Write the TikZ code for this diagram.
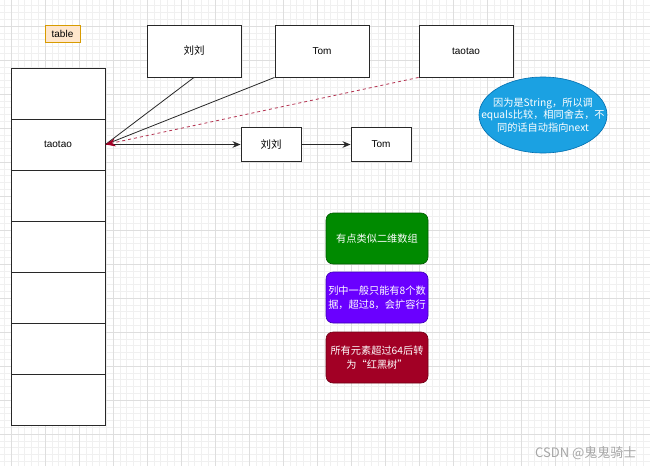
\documentclass[tikz,border=0pt]{standalone}
\usepackage{fontspec}
\setmainfont{Liberation Sans}
\newfontfamily\cjk{Noto Sans CJK SC}
\usetikzlibrary{arrows.meta,shapes.geometric}
\definecolor{gridminor}{RGB}{240,240,240}
\definecolor{gridmajor}{RGB}{222,222,222}
\definecolor{tblfill}{RGB}{255,230,204}
\definecolor{tbldraw}{RGB}{215,155,0}
\definecolor{ellfill}{RGB}{27,161,226}
\definecolor{elldraw}{RGB}{0,110,175}
\definecolor{greenfill}{RGB}{0,138,0}
\definecolor{greendraw}{RGB}{0,90,0}
\definecolor{purplefill}{RGB}{106,0,255}
\definecolor{purpledraw}{RGB}{60,0,180}
\definecolor{redfill}{RGB}{162,0,37}
\definecolor{reddraw}{RGB}{110,0,20}
\definecolor{dashred}{RGB}{180,50,80}
\definecolor{linegray}{RGB}{40,40,40}
\tikzset{
  box/.style={draw=linegray, line width=0.9pt, fill=white, rectangle, inner sep=0pt, font=\fontsize{10}{12}\selectfont},
  rowbox/.style={box, minimum width=94pt, minimum height=51pt},
  bigbox/.style={box, minimum width=94pt, minimum height=52pt},
  smallbox/.style={box, minimum width=60pt, minimum height=34pt},
  note/.style={rectangle, rounded corners=7pt, minimum width=102pt, minimum height=51pt, align=center, text=white, inner sep=0pt, line width=0.6pt, font=\cjk\fontsize{10.2}{13.5}\selectfont},
  link/.style={draw=linegray, line width=0.8pt},
  arr/.style={link, -{Stealth[length=8pt,width=6.5pt]}}
}
\begin{document}
\begin{tikzpicture}[x=1pt,y=-1pt]
\useasboundingbox (0,0) rectangle (650,466);
\fill[white] (0,0) rectangle (650,466);
% grid
\foreach \i in {0,...,95} {
  \draw[gridminor, line width=0.5pt] ({4.2+\i*6.8},0) -- ({4.2+\i*6.8},466);
}
\foreach \i in {0,...,69} {
  \draw[gridminor, line width=0.5pt] (0,{5.6+\i*6.8}) -- (650,{5.6+\i*6.8});
}
\foreach \i in {0,...,18} {
  \draw[gridmajor, line width=0.7pt] ({11+\i*34},0) -- ({11+\i*34},466);
}
\foreach \i in {0,...,13} {
  \draw[gridmajor, line width=0.7pt] (0,{26+\i*34}) -- (650,{26+\i*34});
}
% table label
\node[draw=tbldraw, fill=tblfill, minimum width=35pt, minimum height=17pt, inner sep=0pt, font=\fontsize{10}{11}\selectfont] (tlabel) at (62.5,34) {table};
% table rows
\node[rowbox] (r1) at (58,93.5) {};
\node[rowbox] (r2) at (58,144.5) {taotao};
\node[rowbox] (r3) at (58,195.5) {};
\node[rowbox] (r4) at (58,246.5) {};
\node[rowbox] (r5) at (58,297.5) {};
\node[rowbox] (r6) at (58,348.5) {};
\node[rowbox] (r7) at (58,399.5) {};
% top boxes
\node[bigbox, font=\cjk\fontsize{10.5}{12}\selectfont] (liu1) at (194,51) {刘刘};
\node[bigbox] (tom1) at (322,51) {Tom};
\node[bigbox] (tao1) at (466,51) {taotao};
% chain boxes
\node[smallbox, font=\cjk\fontsize{10.5}{12}\selectfont] (liu2) at (271,144.5) {刘刘};
\node[smallbox] (tom2) at (381,144.5) {Tom};
% ellipse
\node[ellipse, draw=elldraw, fill=ellfill, line width=0.6pt, minimum width=128pt, minimum height=76pt, inner sep=0pt] (ell) at (543,115) {};
\node[text=white, align=center, inner sep=0pt, font=\cjk\fontsize{10.2}{12.5}\selectfont] (elltext) at (ell.center) {因为是String，所以调\\equals比较，相同舍去，不\\同的话自动指向next};
% notes
\node[note, draw=greendraw, fill=greenfill] (n1) at (377,238.5) {有点类似二维数组};
\node[note, draw=purpledraw, fill=purplefill] (n2) at (377,297.5) {列中一般只能有8个数\\据，超过8，会扩容行};
\node[note, draw=reddraw, fill=redfill] (n3) at (377,357.5) {所有元素超过64后转\\为“红黑树”};
% connectors
\draw[link] (liu1.south) -- (r2.east);
\draw[link] (tom1.south west) -- (r2.east);
\draw[arr] (r2.east) -- (liu2.west);
\draw[arr] (liu2.east) -- (tom2.west);
\draw[draw=dashred, line width=0.8pt, dash pattern=on 3pt off 3pt, -{Stealth[length=10pt,width=8pt,color=redfill]}] (tao1.south west) -- (r2.east);
% watermark
\node[text=black!35, anchor=east, font=\cjk\fontsize{13}{14}\selectfont] (wm) at (640,453) {CSDN @鬼鬼骑士};
\end{tikzpicture}
\end{document}
